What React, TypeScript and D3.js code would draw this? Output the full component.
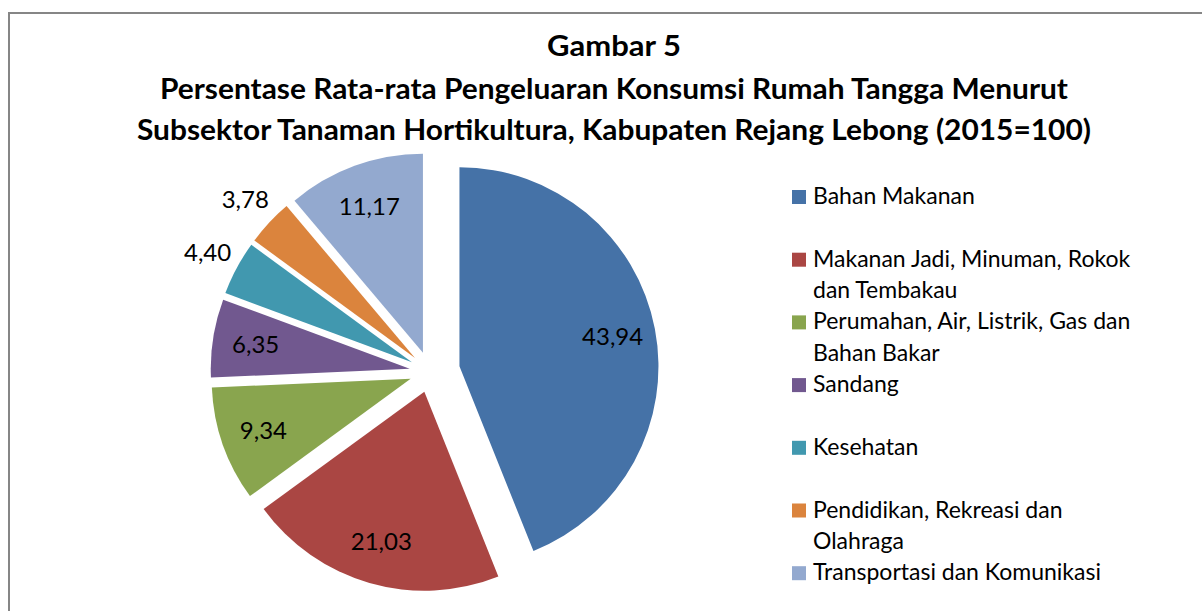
import React from "react";
import * as d3 from "d3";

const categories = [
  "Bahan Makanan",
  "Makanan Jadi, Minuman, Rokok dan Tembakau",
  "Perumahan, Air, Listrik, Gas dan Bahan Bakar",
  "Sandang",
  "Kesehatan",
  "Pendidikan, Rekreasi dan Olahraga",
  "Transportasi dan Komunikasi",
];
const values = [43.94, 21.03, 9.34, 6.35, 4.4, 3.78, 11.17];
const legendLines = [
  ["Bahan Makanan"],
  ["Makanan Jadi, Minuman, Rokok", "dan Tembakau"],
  ["Perumahan, Air, Listrik, Gas dan", "Bahan Bakar"],
  ["Sandang"],
  ["Kesehatan"],
  ["Pendidikan, Rekreasi dan", "Olahraga"],
  ["Transportasi dan Komunikasi"],
];
const titleLines = [
  "Gambar 5",
  "Persentase Rata-rata Pengeluaran Konsumsi Rumah Tangga Menurut",
  "Subsektor Tanaman Hortikultura, Kabupaten Rejang Lebong (2015=100)",
];
const colors = ["#4572A7", "#AA4643", "#89A54E", "#71588F", "#4198AF", "#DB843D", "#93A9CF"];

const W = 1202;
const H = 611;
const CX = 430;
const CY = 372;
const R = 199;
const EXPLODE_FIRST = 30;
const EXPLODE = 20.5;
const FONT = "Lato, 'Open Sans', sans-serif";

const fmt = (v: number) => d3.format(".2f")(v).replace(".", ",");

export default function App() {
  const pie = d3.pie<number>().sort(null).value((d) => d).startAngle(0).endAngle(2 * Math.PI);
  const arcs = pie(values);
  const arc = d3.arc<d3.PieArcDatum<number>>().innerRadius(0).outerRadius(R);

  const titleWidths = [134, 908, 954];
  const titleBase = [56, 99, 140];

  return (
    <svg
      width={W}
      height={H}
      style={{ position: "absolute", left: 0, top: 0, background: "#fff" }}
      fontFamily={FONT}
    >
      <rect x={0} y={0} width={W} height={H} fill="#fff" />
      <rect x={9} y={13} width={W + 20} height={H + 20} fill="none" stroke="#868686" strokeWidth={2} />

      {titleLines.map((t, i) => (
        <text
          key={t}
          x={614}
          y={titleBase[i]}
          textAnchor="middle"
          fontWeight="bold"
          fontSize={28}
          fill="#000"
          textLength={titleWidths[i]}
          lengthAdjust="spacingAndGlyphs"
        >
          {t}
        </text>
      ))}

      <g>
        {arcs.map((a, i) => {
          const mid = (a.startAngle + a.endAngle) / 2;
          const d = i === 0 ? EXPLODE_FIRST : EXPLODE;
          const ox = CX + d * Math.sin(mid);
          const oy = CY - d * Math.cos(mid);
          return (
            <path key={categories[i]} d={arc(a) || ""} transform={`translate(${ox},${oy})`} fill={colors[i]} />
          );
        })}
        {arcs.map((a, i) => {
          const mid = (a.startAngle + a.endAngle) / 2;
          const d = i === 0 ? EXPLODE_FIRST : EXPLODE;
          const ox = CX + d * Math.sin(mid);
          const oy = CY - d * Math.cos(mid);
          const inside = values[i] >= 5;
          const r = inside ? 156 : 232;
          const lx = ox + r * Math.sin(mid);
          const ly = oy - r * Math.cos(mid);
          return (
            <text
              key={"l" + i}
              x={lx}
              y={ly}
              dy="0.36em"
              textAnchor="middle"
              fontSize={24}
              fill="#000"
            >
              {fmt(values[i])}
            </text>
          );
        })}
      </g>

      <g>
        {legendLines.map((lines, i) => {
          const top = 190 + i * 62.7;
          return (
            <g key={categories[i]}>
              <rect x={792} y={top} width={14} height={14} fill={colors[i]} />
              {lines.map((ln, j) => (
                <text key={ln} x={813} y={top + 14 + j * 31.5} fontSize={23} fill="#000">
                  {ln}
                </text>
              ))}
            </g>
          );
        })}
      </g>
    </svg>
  );
}
